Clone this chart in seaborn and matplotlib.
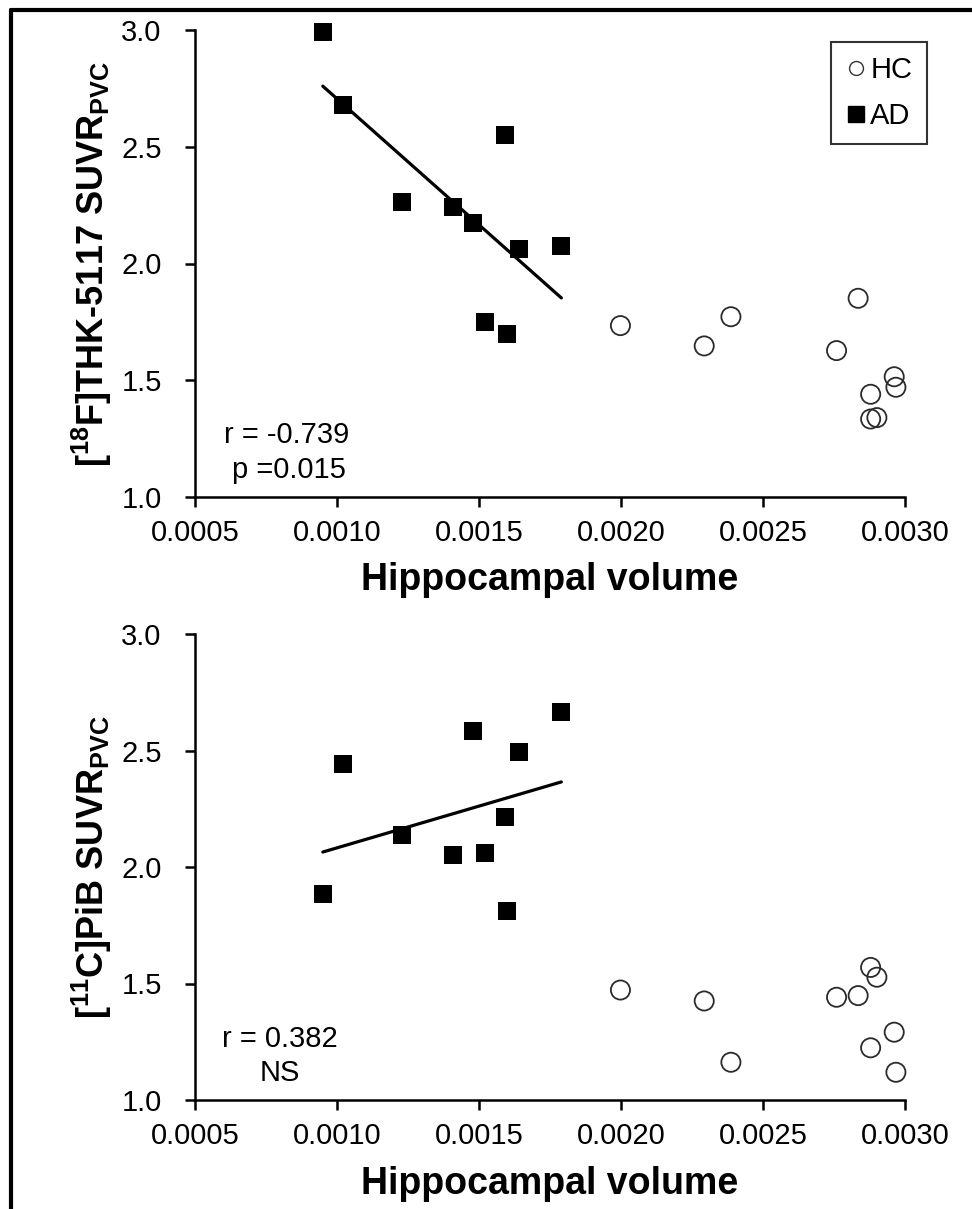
import numpy as np
import pandas as pd
import matplotlib
matplotlib.use("Agg")
import matplotlib.pyplot as plt
from matplotlib.lines import Line2D
import seaborn as sns

# ---------------- data ----------------
ad_volume = [0.00095, 0.00102, 0.00123, 0.00141, 0.00148, 0.00152, 0.00159, 0.00160, 0.00164, 0.00179]
ad_thk = [2.99, 2.68, 2.265, 2.243, 2.175, 1.748, 2.55, 1.70, 2.061, 2.076]
ad_pib = [1.883, 2.441, 2.137, 2.050, 2.585, 2.059, 2.213, 1.811, 2.494, 2.664]

hc_volume = [0.001998, 0.002293, 0.002387, 0.002759, 0.002835, 0.002879, 0.002879, 0.002901, 0.002962, 0.002968]
hc_thk = [1.734, 1.647, 1.772, 1.627, 1.851, 1.440, 1.334, 1.340, 1.515, 1.470]
hc_pib = [1.472, 1.425, 1.162, 1.441, 1.448, 1.569, 1.224, 1.527, 1.291, 1.119]

x_ticks = [0.0005, 0.0010, 0.0015, 0.0020, 0.0025, 0.0030]
y_ticks = [1.0, 1.5, 2.0, 2.5, 3.0]

ylabel_top = r"$\mathbf{[^{18}F]}$THK-5117 SUVR$\mathbf{_{PVC}}$"
ylabel_bot = r"$\mathbf{[^{11}C]}$PiB SUVR$\mathbf{_{PVC}}$"
xlabel = "Hippocampal volume"
stats_top = ["r = -0.739", "p =0.015"]
stats_bot = ["r = 0.382", "NS"]
groups = ["HC", "AD"]

# ---------------- style ----------------
sns.set_theme(style="white")
plt.rcParams["font.family"] = ["Liberation Sans", "DejaVu Sans"]
plt.rcParams["mathtext.fontset"] = "custom"
plt.rcParams["mathtext.rm"] = "Liberation Sans"
plt.rcParams["mathtext.bf"] = "Liberation Sans:bold"
plt.rcParams["mathtext.it"] = "Liberation Sans:italic"
plt.rcParams["text.color"] = "black"
plt.rcParams["axes.labelcolor"] = "black"

W, H = 972, 1209
fig = plt.figure(figsize=(W / 100, H / 100), dpi=100)
fig.patch.set_facecolor("white")

left = 195 / W
width = (905 - 195) / W
ax1 = fig.add_axes([left, 1 - 497 / H, width, (497 - 30) / H])
ax2 = fig.add_axes([left, 1 - 1100 / H, width, (1100 - 634) / H])

ad_df_top = pd.DataFrame({"vol": ad_volume, "val": ad_thk})
hc_df_top = pd.DataFrame({"vol": hc_volume, "val": hc_thk})
ad_df_bot = pd.DataFrame({"vol": ad_volume, "val": ad_pib})
hc_df_bot = pd.DataFrame({"vol": hc_volume, "val": hc_pib})

def draw(ax, ad_df, hc_df, ylab):
    sns.scatterplot(data=hc_df, x="vol", y="val", ax=ax, marker="o", s=190,
                    facecolor="none", edgecolor="#2b2b2b", linewidth=1.3, zorder=3,
                    clip_on=False)
    sns.scatterplot(data=ad_df, x="vol", y="val", ax=ax, marker="s", s=165,
                    color="black", edgecolor="black", linewidth=0, zorder=4,
                    clip_on=False)
    sns.regplot(data=ad_df, x="vol", y="val", ax=ax, scatter=False, ci=None,
                truncate=True, color="black", line_kws={"lw": 2.3, "zorder": 2})
    ax.set_xlim(0.0005, 0.0030)
    ax.set_ylim(1.0, 3.0)
    ax.set_xticks(x_ticks)
    ax.set_xticklabels([f"{t:.4f}" for t in x_ticks])
    ax.set_yticks(y_ticks)
    ax.set_yticklabels([f"{t:.1f}" for t in y_ticks])
    for s in ["top", "right"]:
        ax.spines[s].set_visible(False)
    for s in ["left", "bottom"]:
        ax.spines[s].set_color("black")
        ax.spines[s].set_linewidth(1.8)
    ax.tick_params(axis="both", direction="out", length=7, width=1.8, color="black",
                   labelsize=21, labelcolor="black")
    ax.tick_params(axis="y", pad=17)
    ax.tick_params(axis="x", pad=9)
    ax.tick_params(bottom=True, left=True)
    ax.set_xlabel(xlabel, fontsize=27, fontweight="bold", labelpad=11, color="black")
    ax.set_ylabel(ylab, fontsize=26, fontweight="bold", labelpad=5, color="black")
    ax.set_facecolor("white")
    return ax

draw(ax1, ad_df_top, hc_df_top, ylabel_top)
draw(ax2, ad_df_bot, hc_df_bot, ylabel_bot)

# annotations
fs = 21
ax1.text(0.041, 0.133, stats_top[0], transform=ax1.transAxes, fontsize=fs, ha="left", va="center")
ax1.text(0.052, 0.058, stats_top[1], transform=ax1.transAxes, fontsize=fs, ha="left", va="center")
ax2.text(0.038, 0.130, stats_bot[0], transform=ax2.transAxes, fontsize=fs, ha="left", va="center")
ax2.text(0.120, 0.058, stats_bot[1], transform=ax2.transAxes, fontsize=fs, ha="center", va="center")

# legend
handles = [
    Line2D([], [], marker="o", linestyle="none", markersize=10, markerfacecolor="none",
           markeredgecolor="#333333", markeredgewidth=1.0),
    Line2D([], [], marker="s", linestyle="none", markersize=12, markerfacecolor="black",
           markeredgecolor="black"),
]
leg = ax1.legend(handles, groups, loc="upper right", bbox_to_anchor=(1.031, 0.975),
                 fontsize=21, frameon=True, fancybox=False, handlelength=0.7,
                 handletextpad=0.15, labelspacing=0.6, borderpad=0.5, borderaxespad=0)
leg.get_frame().set_edgecolor("black")
leg.get_frame().set_linewidth(1.5)

# outer border (left and top edges)
fig.add_artist(Line2D([11 / W, 11 / W], [0, 1 - 9.5 / H], transform=fig.transFigure,
                      color="black", lw=3))
fig.add_artist(Line2D([11 / W, 1], [1 - 9.5 / H, 1 - 9.5 / H], transform=fig.transFigure,
                      color="black", lw=3))

fig.savefig("out.png", dpi=100, facecolor="white")
